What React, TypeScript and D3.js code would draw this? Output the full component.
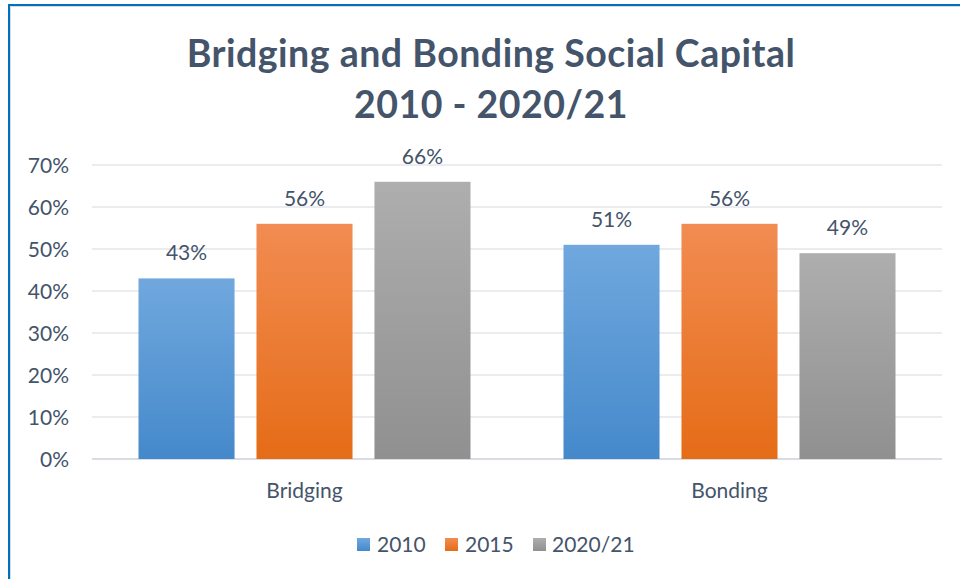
import React from "react";
import * as d3 from "d3";

const categories = ["Bridging", "Bonding"];
const seriesNames = ["2010", "2015", "2020/21"];
const values2010 = [43, 51];
const values2015 = [56, 56];
const values2021 = [66, 49];
const yTicks = [0, 10, 20, 30, 40, 50, 60, 70];
const titleLines = ["Bridging and Bonding Social Capital", "2010 - 2020/21"];

const seriesValues = [values2010, values2015, values2021];
const gradients = [
  { id: "g2010", top: "#70A8DE", bottom: "#4589CB" },
  { id: "g2015", top: "#F28C52", bottom: "#E56C17" },
  { id: "g2021", top: "#AEAEAE", bottom: "#909090" },
];

const W = 960;
const H = 579;
const FONT = "Lato, 'Open Sans', sans-serif";
const TEXT = "#44546A";
const FS = 21;

export default function App() {
  const left = 92;
  const right = 942;
  const top = 165;
  const bottom = 459;

  const y = d3.scaleLinear().domain([0, 70]).range([bottom, top]);
  const cat = d3.scaleBand<string>().domain(categories).range([left, right]);

  const groupWidth = 332;
  const xg = d3
    .scaleBand<string>()
    .domain(seriesNames)
    .range([0, groupWidth])
    .paddingInner(0.186)
    .paddingOuter(0);

  const legendItems = [
    { name: seriesNames[0], sx: 357, tx: 377 },
    { name: seriesNames[1], sx: 445, tx: 465 },
    { name: seriesNames[2], sx: 533, tx: 552 },
  ];

  return (
    <svg
      width={W}
      height={H}
      style={{ position: "absolute", left: 0, top: 0, background: "#fff" }}
      fontFamily={FONT}
    >
      <defs>
        {gradients.map((g) => (
          <linearGradient key={g.id} id={g.id} x1="0" y1="0" x2="0" y2="1">
            <stop offset="0" stopColor={g.top} />
            <stop offset="1" stopColor={g.bottom} />
          </linearGradient>
        ))}
      </defs>
      <rect x={0} y={0} width={W} height={H} fill="#fff" />
      {/* outer border */}
      <line x1={9} y1={5} x2={W} y2={5} stroke="#0070C0" strokeWidth={2} />
      <line x1={9} y1={4} x2={9} y2={H} stroke="#0070C0" strokeWidth={2} />
      <line x1={10.5} y1={6.5} x2={W} y2={6.5} stroke="#D9D9D9" strokeWidth={1} />
      <line x1={10.5} y1={6.5} x2={10.5} y2={H} stroke="#D9D9D9" strokeWidth={1} />

      {/* title */}
      {titleLines.map((t, i) => (
        <text
          key={t}
          x={491}
          y={67 + i * 51}
          textAnchor="middle"
          fontSize={37.5}
          letterSpacing={0.5}
          fontWeight={700}
          fill={TEXT}
        >
          {t}
        </text>
      ))}

      {/* gridlines */}
      {yTicks.map((t) => (
        <g key={t}>
          <line
            x1={left}
            x2={right}
            y1={y(t)}
            y2={y(t)}
            stroke={t === 0 ? "#D9DDE3" : "#E3E6EB"}
            strokeWidth={t === 0 ? 2 : 1.5}
          />
          <text
            x={69}
            y={y(t) + 7.5}
            textAnchor="end"
            fontSize={FS}
            fill={TEXT}
          >
            {t}%
          </text>
        </g>
      ))}

      {/* bars */}
      {categories.map((c, ci) => {
        const gx = (cat(c) as number) + (cat.bandwidth() - groupWidth) / 2;
        return (
          <g key={c}>
            {seriesNames.map((s, si) => {
              const v = seriesValues[si][ci];
              const bx = gx + (xg(s) as number);
              const bw = xg.bandwidth();
              return (
                <g key={s}>
                  <rect
                    x={bx}
                    y={y(v)}
                    width={bw}
                    height={bottom - y(v)}
                    fill={`url(#${gradients[si].id})`}
                  />
                  <text
                    x={bx + bw / 2}
                    y={y(v) - 18}
                    textAnchor="middle"
                    fontSize={FS}
                    fill={TEXT}
                  >
                    {v}%
                  </text>
                </g>
              );
            })}
            <text
              x={(cat(c) as number) + cat.bandwidth() / 2}
              y={498}
              textAnchor="middle"
              fontSize={FS}
              fill={TEXT}
            >
              {c}
            </text>
          </g>
        );
      })}

      {/* legend */}
      {legendItems.map((l, i) => (
        <g key={l.name}>
          <rect x={l.sx} y={538} width={13} height={13} fill={`url(#${gradients[i].id})`} />
          <text x={l.tx} y={552} fontSize={FS} fill={TEXT}>
            {l.name}
          </text>
        </g>
      ))}
    </svg>
  );
}
